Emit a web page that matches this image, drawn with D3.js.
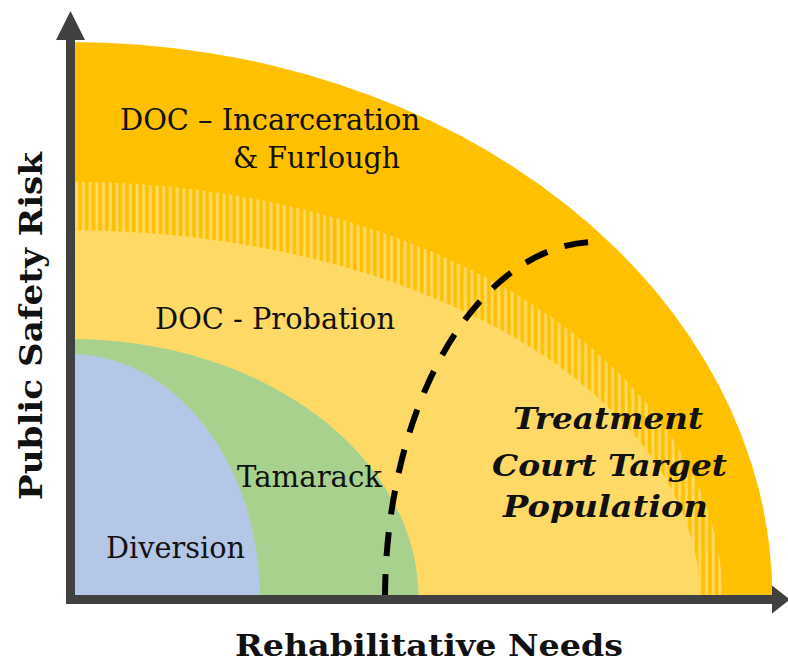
<!DOCTYPE html>
<html>
<head>
<meta charset="utf-8">
<script src="https://cdn.jsdelivr.net/npm/d3@7"></script>
<style>
  body { margin: 0; background: #fff; }
  svg { display: block; }
</style>
</head>
<body>
<div id="chart"></div>
<script>
// nested zones, outermost first (extent on each axis, 0-100 scale)
const zoneNames = ["DOC – Incarceration & Furlough", "transition", "DOC - Probation", "Tamarack", "Diversion"];
const zoneNeeds = [100, 92.9, 89.7, 49.6, 27.0];
const zoneRisk = [100, 74.9, 66.2, 46.7, 44.0];
const zoneColors = ["#FFC000", "url(#stripes)", "#FFD966", "#A9D18E", "#B4C7E7"];

// treatment court target boundary (dashed quarter arc)
const targetFrom = [44.8, 0];
const targetTo = [75.0, 64.1];

const axisTitles = ["Rehabilitative Needs", "Public Safety Risk"];

const W = 788, H = 664;
const svg = d3.select("#chart").append("svg")
  .attr("width", W).attr("height", H);

// scales: origin at axis corner
const x = d3.scaleLinear().domain([0, 100]).range([70.5, 772.5]);
const y = d3.scaleLinear().domain([0, 100]).range([599, 42]);

// stripe pattern for the band between incarceration and probation
const defs = svg.append("defs");
const pat = defs.append("pattern")
  .attr("id", "stripes")
  .attr("patternUnits", "userSpaceOnUse")
  .attr("width", 6.7).attr("height", 10);
pat.append("rect").attr("width", 6.7).attr("height", 10).attr("fill", "#FFC000");
pat.append("rect").attr("x", 1.5).attr("width", 3).attr("height", 10).attr("fill", "#FFD966");

// quarter ellipse path from the origin
function quarter(rx, ry) {
  const x0 = x(0), y0 = y(0);
  const px = x(rx) - x0, py = y0 - y(ry);
  return ["M", x0, y0, "L", x0, y0 - py,
    "A", px, py, 0, 0, 1, x0 + px, y0, "Z"].join(" ");
}

svg.selectAll("path.zone")
  .data(zoneNames)
  .enter()
  .append("path")
  .attr("class", "zone")
  .attr("d", function (d, i) { return quarter(zoneNeeds[i], zoneRisk[i]); })
  .attr("fill", function (d, i) { return zoneColors[i]; });

// dashed target line
const sx = x(targetFrom[0]), sy = y(targetFrom[1]);
const ex = x(targetTo[0]), ey = y(targetTo[1]);
svg.append("path")
  .attr("d", ["M", sx, sy - 1, "A", ex - sx, sy - ey, 0, 0, 1, ex, ey].join(" "))
  .attr("fill", "none")
  .attr("stroke", "#000")
  .attr("stroke-width", 6)
  .attr("stroke-dasharray", "24 18");

// axes with arrow heads
const axisColor = "#404040";
svg.append("line")
  .attr("x1", x(0)).attr("y1", y(0) + 5)
  .attr("x2", x(0)).attr("y2", 40)
  .attr("stroke", axisColor).attr("stroke-width", 9);
svg.append("path")
  .attr("d", "M" + (x(0) - 14.5) + ",40 L" + (x(0) + 14.5) + ",40 L" + x(0) + ",11 Z")
  .attr("fill", axisColor);
svg.append("line")
  .attr("x1", x(0) - 4.5).attr("y1", y(0) + 0.5)
  .attr("x2", 773).attr("y2", y(0) + 0.5)
  .attr("stroke", axisColor).attr("stroke-width", 9);
svg.append("path")
  .attr("d", "M772," + (y(0) - 13.5) + " L772," + (y(0) + 14.5) + " L790," + (y(0) + 0.5) + " Z")
  .attr("fill", axisColor);

// zone labels
const serif = "'DejaVu Serif', 'Liberation Serif', serif";
function label(txt, px, py, len, opts) {
  opts = opts || {};
  svg.append("text")
    .attr("x", px).attr("y", py)
    .attr("textLength", len)
    .attr("lengthAdjust", "spacingAndGlyphs")
    .attr("font-family", serif)
    .attr("font-size", opts.size || 29)
    .attr("font-weight", opts.weight || "normal")
    .attr("font-style", opts.style || "normal")
    .attr("fill", "#111")
    .attr("transform", opts.transform || null)
    .text(txt);
}

label("DOC – Incarceration", 120, 130, 300);
label("& Furlough", 233, 168, 167);
label("DOC - Probation", 155, 329, 240);
label("Tamarack", 237, 487, 145);
label("Diversion", 106, 558, 139);

label("Treatment", 513, 429, 190, { weight: "bold", style: "italic", size: 30 });
label("Court Target", 492, 476, 235, { weight: "bold", style: "italic", size: 30 });
label("Population", 503, 517, 205, { weight: "bold", style: "italic", size: 30 });

// axis titles
label(axisTitles[0], 235, 656, 388, { weight: "bold", size: 29 });
svg.append("text")
  .attr("transform", "translate(42,500) rotate(-90)")
  .attr("textLength", 348)
  .attr("lengthAdjust", "spacingAndGlyphs")
  .attr("font-family", serif)
  .attr("font-size", 31)
  .attr("font-weight", "bold")
  .attr("fill", "#111")
  .text(axisTitles[1]);
</script>
</body>
</html>
